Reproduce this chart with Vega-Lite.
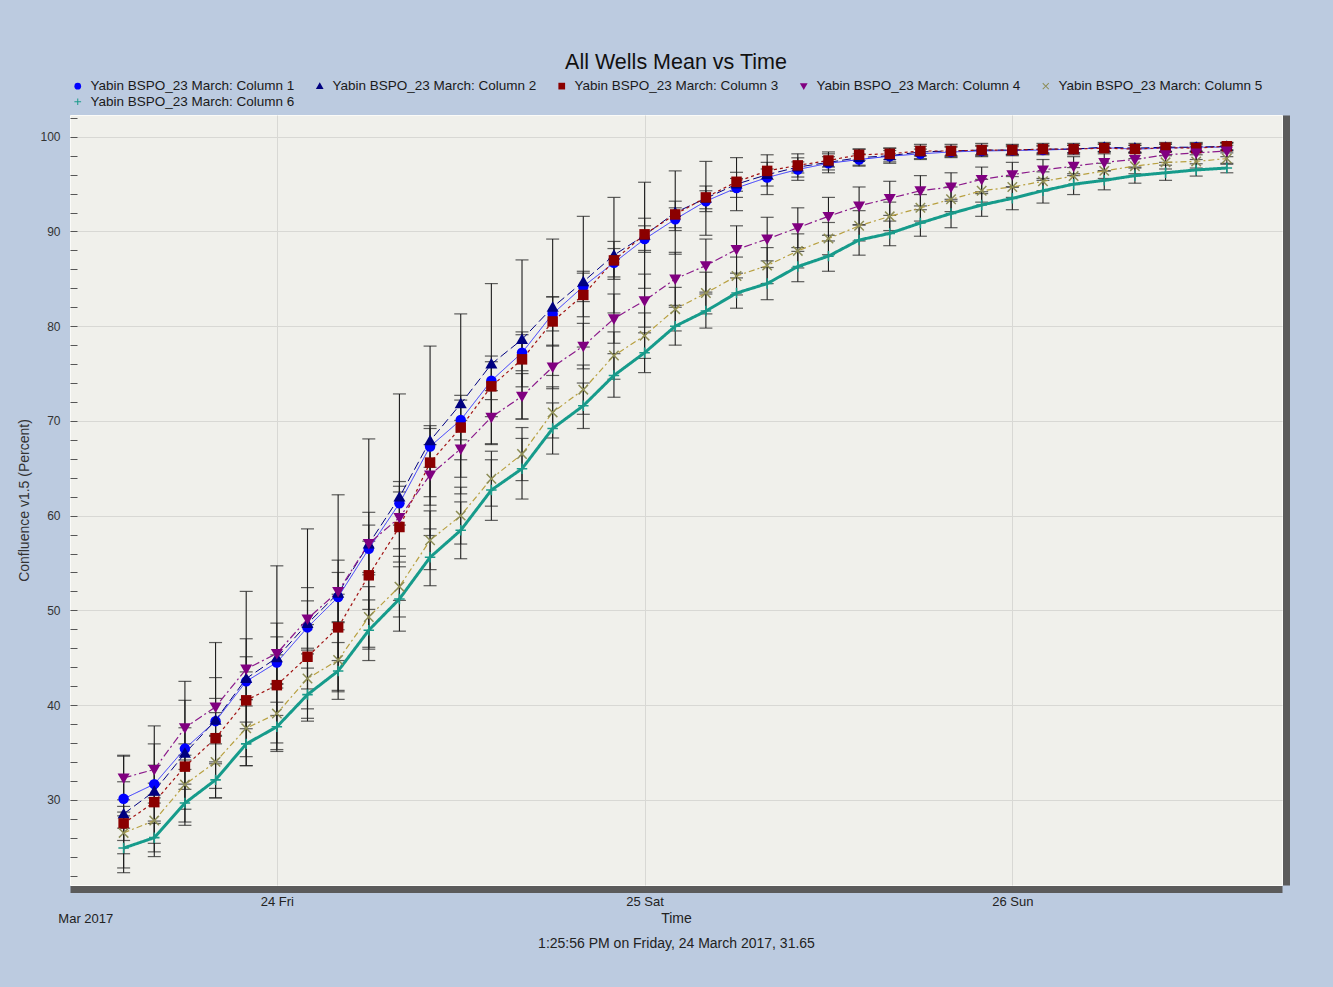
{
"$schema": "https://vega.github.io/schema/vega-lite/v6.json",
"width": 1212, "height": 770,
"autosize": "none",
"padding": {"left": 70, "top": 115, "right": 51, "bottom": 102},
"background": "#bccbe0",
"config": {"font": "Liberation Sans", "view": {"fill": "#f0f0eb", "stroke": "#fbfbf8", "strokeWidth": 1}},
"title": {"text": "All Wells Mean vs Time", "fontSize": 21.5, "fontWeight": "normal", "color": "#111111", "anchor": "middle", "frame": "group", "offset": 6},
"data": {"values": [
{"time":"2017-03-23T14:00:00","series":"Column 1","mean":30.1,"sd":1.8},
{"time":"2017-03-23T16:00:00","series":"Column 1","mean":31.65,"sd":2.0},
{"time":"2017-03-23T18:00:00","series":"Column 1","mean":35.4,"sd":2.2},
{"time":"2017-03-23T20:00:00","series":"Column 1","mean":38.3,"sd":2.4},
{"time":"2017-03-23T22:00:00","series":"Column 1","mean":42.5,"sd":2.6},
{"time":"2017-03-24T00:00:00","series":"Column 1","mean":44.5,"sd":2.7},
{"time":"2017-03-24T02:00:00","series":"Column 1","mean":48.2,"sd":2.8},
{"time":"2017-03-24T04:00:00","series":"Column 1","mean":51.4,"sd":2.6},
{"time":"2017-03-24T06:00:00","series":"Column 1","mean":56.5,"sd":2.5},
{"time":"2017-03-24T08:00:00","series":"Column 1","mean":61.3,"sd":2.3},
{"time":"2017-03-24T10:00:00","series":"Column 1","mean":67.3,"sd":2.2},
{"time":"2017-03-24T12:00:00","series":"Column 1","mean":70.1,"sd":2.1},
{"time":"2017-03-24T14:00:00","series":"Column 1","mean":74.25,"sd":2.0},
{"time":"2017-03-24T16:00:00","series":"Column 1","mean":77.2,"sd":1.9},
{"time":"2017-03-24T18:00:00","series":"Column 1","mean":81.3,"sd":1.8},
{"time":"2017-03-24T20:00:00","series":"Column 1","mean":84.2,"sd":1.6},
{"time":"2017-03-24T22:00:00","series":"Column 1","mean":86.7,"sd":1.5},
{"time":"2017-03-25T00:00:00","series":"Column 1","mean":89.2,"sd":1.4},
{"time":"2017-03-25T02:00:00","series":"Column 1","mean":91.3,"sd":1.2},
{"time":"2017-03-25T04:00:00","series":"Column 1","mean":93.2,"sd":1.1},
{"time":"2017-03-25T06:00:00","series":"Column 1","mean":94.6,"sd":1.0},
{"time":"2017-03-25T08:00:00","series":"Column 1","mean":95.7,"sd":0.9},
{"time":"2017-03-25T10:00:00","series":"Column 1","mean":96.55,"sd":0.8},
{"time":"2017-03-25T12:00:00","series":"Column 1","mean":97.2,"sd":0.7},
{"time":"2017-03-25T14:00:00","series":"Column 1","mean":97.6,"sd":0.6},
{"time":"2017-03-25T16:00:00","series":"Column 1","mean":97.95,"sd":0.6},
{"time":"2017-03-25T18:00:00","series":"Column 1","mean":98.2,"sd":0.5},
{"time":"2017-03-25T20:00:00","series":"Column 1","mean":98.4,"sd":0.5},
{"time":"2017-03-25T22:00:00","series":"Column 1","mean":98.5,"sd":0.5},
{"time":"2017-03-26T00:00:00","series":"Column 1","mean":98.55,"sd":0.4},
{"time":"2017-03-26T02:00:00","series":"Column 1","mean":98.6,"sd":0.4},
{"time":"2017-03-26T04:00:00","series":"Column 1","mean":98.7,"sd":0.4},
{"time":"2017-03-26T06:00:00","series":"Column 1","mean":98.85,"sd":0.4},
{"time":"2017-03-26T08:00:00","series":"Column 1","mean":98.7,"sd":0.4},
{"time":"2017-03-26T10:00:00","series":"Column 1","mean":98.8,"sd":0.4},
{"time":"2017-03-26T12:00:00","series":"Column 1","mean":98.9,"sd":0.4},
{"time":"2017-03-26T14:00:00","series":"Column 1","mean":98.9,"sd":0.4},
{"time":"2017-03-23T14:00:00","series":"Column 2","mean":28.5,"sd":6.2},
{"time":"2017-03-23T16:00:00","series":"Column 2","mean":30.9,"sd":6.9},
{"time":"2017-03-23T18:00:00","series":"Column 2","mean":34.9,"sd":7.6},
{"time":"2017-03-23T20:00:00","series":"Column 2","mean":38.4,"sd":8.2},
{"time":"2017-03-23T22:00:00","series":"Column 2","mean":42.8,"sd":9.2},
{"time":"2017-03-24T00:00:00","series":"Column 2","mean":45.0,"sd":9.7},
{"time":"2017-03-24T02:00:00","series":"Column 2","mean":48.6,"sd":10.0},
{"time":"2017-03-24T04:00:00","series":"Column 2","mean":51.8,"sd":10.4},
{"time":"2017-03-24T06:00:00","series":"Column 2","mean":57.0,"sd":11.1},
{"time":"2017-03-24T08:00:00","series":"Column 2","mean":61.95,"sd":10.9},
{"time":"2017-03-24T10:00:00","series":"Column 2","mean":67.9,"sd":10.0},
{"time":"2017-03-24T12:00:00","series":"Column 2","mean":71.8,"sd":9.5},
{"time":"2017-03-24T14:00:00","series":"Column 2","mean":76.0,"sd":8.5},
{"time":"2017-03-24T16:00:00","series":"Column 2","mean":78.6,"sd":8.4},
{"time":"2017-03-24T18:00:00","series":"Column 2","mean":82.0,"sd":7.2},
{"time":"2017-03-24T20:00:00","series":"Column 2","mean":84.7,"sd":6.9},
{"time":"2017-03-24T22:00:00","series":"Column 2","mean":87.5,"sd":6.1},
{"time":"2017-03-25T00:00:00","series":"Column 2","mean":89.6,"sd":5.6},
{"time":"2017-03-25T02:00:00","series":"Column 2","mean":92.0,"sd":4.4},
{"time":"2017-03-25T04:00:00","series":"Column 2","mean":93.5,"sd":3.9},
{"time":"2017-03-25T06:00:00","series":"Column 2","mean":95.0,"sd":2.8},
{"time":"2017-03-25T08:00:00","series":"Column 2","mean":96.0,"sd":2.1},
{"time":"2017-03-25T10:00:00","series":"Column 2","mean":96.8,"sd":1.4},
{"time":"2017-03-25T12:00:00","series":"Column 2","mean":97.3,"sd":1.1},
{"time":"2017-03-25T14:00:00","series":"Column 2","mean":97.8,"sd":0.9},
{"time":"2017-03-25T16:00:00","series":"Column 2","mean":98.0,"sd":0.8},
{"time":"2017-03-25T18:00:00","series":"Column 2","mean":98.4,"sd":0.8},
{"time":"2017-03-25T20:00:00","series":"Column 2","mean":98.5,"sd":0.7},
{"time":"2017-03-25T22:00:00","series":"Column 2","mean":98.6,"sd":0.7},
{"time":"2017-03-26T00:00:00","series":"Column 2","mean":98.6,"sd":0.6},
{"time":"2017-03-26T02:00:00","series":"Column 2","mean":98.7,"sd":0.6},
{"time":"2017-03-26T04:00:00","series":"Column 2","mean":98.7,"sd":0.6},
{"time":"2017-03-26T06:00:00","series":"Column 2","mean":98.9,"sd":0.5},
{"time":"2017-03-26T08:00:00","series":"Column 2","mean":98.8,"sd":0.5},
{"time":"2017-03-26T10:00:00","series":"Column 2","mean":98.9,"sd":0.5},
{"time":"2017-03-26T12:00:00","series":"Column 2","mean":98.9,"sd":0.5},
{"time":"2017-03-26T14:00:00","series":"Column 2","mean":99.0,"sd":0.4},
{"time":"2017-03-23T14:00:00","series":"Column 3","mean":27.5,"sd":1.8},
{"time":"2017-03-23T16:00:00","series":"Column 3","mean":29.75,"sd":2.0},
{"time":"2017-03-23T18:00:00","series":"Column 3","mean":33.5,"sd":2.4},
{"time":"2017-03-23T20:00:00","series":"Column 3","mean":36.5,"sd":2.7},
{"time":"2017-03-23T22:00:00","series":"Column 3","mean":40.5,"sd":3.0},
{"time":"2017-03-24T00:00:00","series":"Column 3","mean":42.1,"sd":3.2},
{"time":"2017-03-24T02:00:00","series":"Column 3","mean":45.1,"sd":3.4},
{"time":"2017-03-24T04:00:00","series":"Column 3","mean":48.2,"sd":3.5},
{"time":"2017-03-24T06:00:00","series":"Column 3","mean":53.7,"sd":3.6},
{"time":"2017-03-24T08:00:00","series":"Column 3","mean":58.8,"sd":3.7},
{"time":"2017-03-24T10:00:00","series":"Column 3","mean":65.6,"sd":3.6},
{"time":"2017-03-24T12:00:00","series":"Column 3","mean":69.3,"sd":3.4},
{"time":"2017-03-24T14:00:00","series":"Column 3","mean":73.65,"sd":3.2},
{"time":"2017-03-24T16:00:00","series":"Column 3","mean":76.5,"sd":2.9},
{"time":"2017-03-24T18:00:00","series":"Column 3","mean":80.5,"sd":2.6},
{"time":"2017-03-24T20:00:00","series":"Column 3","mean":83.3,"sd":2.3},
{"time":"2017-03-24T22:00:00","series":"Column 3","mean":86.95,"sd":2.0},
{"time":"2017-03-25T00:00:00","series":"Column 3","mean":89.7,"sd":1.7},
{"time":"2017-03-25T02:00:00","series":"Column 3","mean":91.8,"sd":1.4},
{"time":"2017-03-25T04:00:00","series":"Column 3","mean":93.6,"sd":1.2},
{"time":"2017-03-25T06:00:00","series":"Column 3","mean":95.25,"sd":1.0},
{"time":"2017-03-25T08:00:00","series":"Column 3","mean":96.4,"sd":0.9},
{"time":"2017-03-25T10:00:00","series":"Column 3","mean":96.98,"sd":0.8},
{"time":"2017-03-25T12:00:00","series":"Column 3","mean":97.5,"sd":0.7},
{"time":"2017-03-25T14:00:00","series":"Column 3","mean":98.1,"sd":0.6},
{"time":"2017-03-25T16:00:00","series":"Column 3","mean":98.2,"sd":0.6},
{"time":"2017-03-25T18:00:00","series":"Column 3","mean":98.5,"sd":0.5},
{"time":"2017-03-25T20:00:00","series":"Column 3","mean":98.5,"sd":0.5},
{"time":"2017-03-25T22:00:00","series":"Column 3","mean":98.6,"sd":0.5},
{"time":"2017-03-26T00:00:00","series":"Column 3","mean":98.6,"sd":0.5},
{"time":"2017-03-26T02:00:00","series":"Column 3","mean":98.7,"sd":0.4},
{"time":"2017-03-26T04:00:00","series":"Column 3","mean":98.7,"sd":0.4},
{"time":"2017-03-26T06:00:00","series":"Column 3","mean":98.8,"sd":0.4},
{"time":"2017-03-26T08:00:00","series":"Column 3","mean":98.7,"sd":0.4},
{"time":"2017-03-26T10:00:00","series":"Column 3","mean":98.85,"sd":0.4},
{"time":"2017-03-26T12:00:00","series":"Column 3","mean":98.8,"sd":0.4},
{"time":"2017-03-26T14:00:00","series":"Column 3","mean":99.0,"sd":0.4},
{"time":"2017-03-23T14:00:00","series":"Column 4","mean":32.3,"sd":2.3},
{"time":"2017-03-23T16:00:00","series":"Column 4","mean":33.2,"sd":2.7},
{"time":"2017-03-23T18:00:00","series":"Column 4","mean":37.6,"sd":2.9},
{"time":"2017-03-23T20:00:00","series":"Column 4","mean":39.8,"sd":3.1},
{"time":"2017-03-23T22:00:00","series":"Column 4","mean":43.8,"sd":3.2},
{"time":"2017-03-24T00:00:00","series":"Column 4","mean":45.45,"sd":3.2},
{"time":"2017-03-24T02:00:00","series":"Column 4","mean":49.1,"sd":3.3},
{"time":"2017-03-24T04:00:00","series":"Column 4","mean":52.0,"sd":3.3},
{"time":"2017-03-24T06:00:00","series":"Column 4","mean":57.05,"sd":3.3},
{"time":"2017-03-24T08:00:00","series":"Column 4","mean":59.8,"sd":3.3},
{"time":"2017-03-24T10:00:00","series":"Column 4","mean":64.3,"sd":3.2},
{"time":"2017-03-24T12:00:00","series":"Column 4","mean":67.05,"sd":3.0},
{"time":"2017-03-24T14:00:00","series":"Column 4","mean":70.4,"sd":2.8},
{"time":"2017-03-24T16:00:00","series":"Column 4","mean":72.6,"sd":2.4},
{"time":"2017-03-24T18:00:00","series":"Column 4","mean":75.7,"sd":2.3},
{"time":"2017-03-24T20:00:00","series":"Column 4","mean":77.9,"sd":2.4},
{"time":"2017-03-24T22:00:00","series":"Column 4","mean":80.8,"sd":2.6},
{"time":"2017-03-25T00:00:00","series":"Column 4","mean":82.7,"sd":2.8},
{"time":"2017-03-25T02:00:00","series":"Column 4","mean":85.0,"sd":2.8},
{"time":"2017-03-25T04:00:00","series":"Column 4","mean":86.4,"sd":2.8},
{"time":"2017-03-25T06:00:00","series":"Column 4","mean":88.1,"sd":2.5},
{"time":"2017-03-25T08:00:00","series":"Column 4","mean":89.2,"sd":2.3},
{"time":"2017-03-25T10:00:00","series":"Column 4","mean":90.4,"sd":2.1},
{"time":"2017-03-25T12:00:00","series":"Column 4","mean":91.6,"sd":2.0},
{"time":"2017-03-25T14:00:00","series":"Column 4","mean":92.7,"sd":2.0},
{"time":"2017-03-25T16:00:00","series":"Column 4","mean":93.5,"sd":1.8},
{"time":"2017-03-25T18:00:00","series":"Column 4","mean":94.3,"sd":1.6},
{"time":"2017-03-25T20:00:00","series":"Column 4","mean":94.7,"sd":1.5},
{"time":"2017-03-25T22:00:00","series":"Column 4","mean":95.5,"sd":1.3},
{"time":"2017-03-26T00:00:00","series":"Column 4","mean":96.0,"sd":1.3},
{"time":"2017-03-26T02:00:00","series":"Column 4","mean":96.5,"sd":1.1},
{"time":"2017-03-26T04:00:00","series":"Column 4","mean":96.9,"sd":1.0},
{"time":"2017-03-26T06:00:00","series":"Column 4","mean":97.3,"sd":0.9},
{"time":"2017-03-26T08:00:00","series":"Column 4","mean":97.6,"sd":0.8},
{"time":"2017-03-26T10:00:00","series":"Column 4","mean":98.1,"sd":0.8},
{"time":"2017-03-26T12:00:00","series":"Column 4","mean":98.3,"sd":0.7},
{"time":"2017-03-26T14:00:00","series":"Column 4","mean":98.5,"sd":0.6},
{"time":"2017-03-23T14:00:00","series":"Column 5","mean":26.5,"sd":2.2},
{"time":"2017-03-23T16:00:00","series":"Column 5","mean":27.8,"sd":2.4},
{"time":"2017-03-23T18:00:00","series":"Column 5","mean":31.6,"sd":2.6},
{"time":"2017-03-23T20:00:00","series":"Column 5","mean":34.0,"sd":2.8},
{"time":"2017-03-23T22:00:00","series":"Column 5","mean":37.55,"sd":3.0},
{"time":"2017-03-24T00:00:00","series":"Column 5","mean":39.1,"sd":3.1},
{"time":"2017-03-24T02:00:00","series":"Column 5","mean":42.8,"sd":3.2},
{"time":"2017-03-24T04:00:00","series":"Column 5","mean":44.75,"sd":3.2},
{"time":"2017-03-24T06:00:00","series":"Column 5","mean":49.3,"sd":3.2},
{"time":"2017-03-24T08:00:00","series":"Column 5","mean":52.5,"sd":3.2},
{"time":"2017-03-24T10:00:00","series":"Column 5","mean":57.4,"sd":3.1},
{"time":"2017-03-24T12:00:00","series":"Column 5","mean":60.0,"sd":3.0},
{"time":"2017-03-24T14:00:00","series":"Column 5","mean":63.9,"sd":2.9},
{"time":"2017-03-24T16:00:00","series":"Column 5","mean":66.5,"sd":2.8},
{"time":"2017-03-24T18:00:00","series":"Column 5","mean":70.9,"sd":2.7},
{"time":"2017-03-24T20:00:00","series":"Column 5","mean":73.3,"sd":2.6},
{"time":"2017-03-24T22:00:00","series":"Column 5","mean":76.9,"sd":2.5},
{"time":"2017-03-25T00:00:00","series":"Column 5","mean":79.0,"sd":2.4},
{"time":"2017-03-25T02:00:00","series":"Column 5","mean":81.8,"sd":2.3},
{"time":"2017-03-25T04:00:00","series":"Column 5","mean":83.5,"sd":2.2},
{"time":"2017-03-25T06:00:00","series":"Column 5","mean":85.3,"sd":2.0},
{"time":"2017-03-25T08:00:00","series":"Column 5","mean":86.4,"sd":1.9},
{"time":"2017-03-25T10:00:00","series":"Column 5","mean":87.95,"sd":1.8},
{"time":"2017-03-25T12:00:00","series":"Column 5","mean":89.25,"sd":1.7},
{"time":"2017-03-25T14:00:00","series":"Column 5","mean":90.6,"sd":1.6},
{"time":"2017-03-25T16:00:00","series":"Column 5","mean":91.6,"sd":1.5},
{"time":"2017-03-25T18:00:00","series":"Column 5","mean":92.5,"sd":1.4},
{"time":"2017-03-25T20:00:00","series":"Column 5","mean":93.4,"sd":1.3},
{"time":"2017-03-25T22:00:00","series":"Column 5","mean":94.3,"sd":1.2},
{"time":"2017-03-26T00:00:00","series":"Column 5","mean":94.7,"sd":1.1},
{"time":"2017-03-26T02:00:00","series":"Column 5","mean":95.3,"sd":1.0},
{"time":"2017-03-26T04:00:00","series":"Column 5","mean":95.85,"sd":0.9},
{"time":"2017-03-26T06:00:00","series":"Column 5","mean":96.4,"sd":0.8},
{"time":"2017-03-26T08:00:00","series":"Column 5","mean":96.9,"sd":0.8},
{"time":"2017-03-26T10:00:00","series":"Column 5","mean":97.3,"sd":0.7},
{"time":"2017-03-26T12:00:00","series":"Column 5","mean":97.4,"sd":0.7},
{"time":"2017-03-26T14:00:00","series":"Column 5","mean":97.7,"sd":0.6},
{"time":"2017-03-23T14:00:00","series":"Column 6","mean":24.9,"sd":2.1},
{"time":"2017-03-23T16:00:00","series":"Column 6","mean":26.0,"sd":1.5},
{"time":"2017-03-23T18:00:00","series":"Column 6","mean":29.65,"sd":2.0},
{"time":"2017-03-23T20:00:00","series":"Column 6","mean":32.1,"sd":1.9},
{"time":"2017-03-23T22:00:00","series":"Column 6","mean":35.9,"sd":2.3},
{"time":"2017-03-24T00:00:00","series":"Column 6","mean":37.7,"sd":2.6},
{"time":"2017-03-24T02:00:00","series":"Column 6","mean":41.1,"sd":2.8},
{"time":"2017-03-24T04:00:00","series":"Column 6","mean":43.6,"sd":3.0},
{"time":"2017-03-24T06:00:00","series":"Column 6","mean":47.9,"sd":3.2},
{"time":"2017-03-24T08:00:00","series":"Column 6","mean":51.2,"sd":3.4},
{"time":"2017-03-24T10:00:00","series":"Column 6","mean":55.6,"sd":3.0},
{"time":"2017-03-24T12:00:00","series":"Column 6","mean":58.45,"sd":3.0},
{"time":"2017-03-24T14:00:00","series":"Column 6","mean":62.7,"sd":3.2},
{"time":"2017-03-24T16:00:00","series":"Column 6","mean":64.95,"sd":3.2},
{"time":"2017-03-24T18:00:00","series":"Column 6","mean":69.2,"sd":2.7},
{"time":"2017-03-24T20:00:00","series":"Column 6","mean":71.6,"sd":2.4},
{"time":"2017-03-24T22:00:00","series":"Column 6","mean":74.8,"sd":2.3},
{"time":"2017-03-25T00:00:00","series":"Column 6","mean":77.2,"sd":2.1},
{"time":"2017-03-25T02:00:00","series":"Column 6","mean":80.0,"sd":2.0},
{"time":"2017-03-25T04:00:00","series":"Column 6","mean":81.6,"sd":1.8},
{"time":"2017-03-25T06:00:00","series":"Column 6","mean":83.5,"sd":1.6},
{"time":"2017-03-25T08:00:00","series":"Column 6","mean":84.5,"sd":1.7},
{"time":"2017-03-25T10:00:00","series":"Column 6","mean":86.3,"sd":1.6},
{"time":"2017-03-25T12:00:00","series":"Column 6","mean":87.4,"sd":1.6},
{"time":"2017-03-25T14:00:00","series":"Column 6","mean":89.1,"sd":1.6},
{"time":"2017-03-25T16:00:00","series":"Column 6","mean":89.8,"sd":1.3},
{"time":"2017-03-25T18:00:00","series":"Column 6","mean":90.9,"sd":1.4},
{"time":"2017-03-25T20:00:00","series":"Column 6","mean":91.9,"sd":1.5},
{"time":"2017-03-25T22:00:00","series":"Column 6","mean":92.8,"sd":1.2},
{"time":"2017-03-26T00:00:00","series":"Column 6","mean":93.5,"sd":1.2},
{"time":"2017-03-26T02:00:00","series":"Column 6","mean":94.3,"sd":1.3},
{"time":"2017-03-26T04:00:00","series":"Column 6","mean":95.0,"sd":1.1},
{"time":"2017-03-26T06:00:00","series":"Column 6","mean":95.4,"sd":1.0},
{"time":"2017-03-26T08:00:00","series":"Column 6","mean":95.9,"sd":0.8},
{"time":"2017-03-26T10:00:00","series":"Column 6","mean":96.2,"sd":0.8},
{"time":"2017-03-26T12:00:00","series":"Column 6","mean":96.5,"sd":0.65},
{"time":"2017-03-26T14:00:00","series":"Column 6","mean":96.7,"sd":0.5}
]},
"resolve": {"axis": {"x": "independent", "y": "independent"}},
"layer": [
{
"mark": {"type": "errorbar", "color": "#1e1e1e", "thickness": 1.1, "ticks": {"size": 13, "thickness": 1.2, "color": "#1e1e1e"}},
"encoding": {
"x": {"field": "time", "type": "temporal", "axis": null, "scale": {"domain": [{"year": 2017, "month": 3, "date": 23, "hours": 10, "minutes": 30}, {"year": 2017, "month": 3, "date": 26, "hours": 17, "minutes": 36}]}},
"y": {"field": "mean", "type": "quantitative", "axis": null, "scale": {"domain": [21, 102.3], "nice": false, "zero": false}},
"yError": {"field": "sd"},
"detail": {"field": "series", "type": "nominal"}
}
},
{
"mark": {"type": "line", "clip": true},
"encoding": {
"x": {"field": "time", "type": "temporal", "scale": {"domain": [{"year": 2017, "month": 3, "date": 23, "hours": 10, "minutes": 30}, {"year": 2017, "month": 3, "date": 26, "hours": 17, "minutes": 36}]},
  "axis": {"values": [{"year": 2017, "month": 3, "date": 24}, {"year": 2017, "month": 3, "date": 25}, {"year": 2017, "month": 3, "date": 26}], "format": "%d %a", "grid": true, "gridColor": "#d8d8d4", "domain": true, "domainColor": "#5b5b5b", "domainWidth": 7, "offset": 4, "ticks": false, "labelPadding": 6, "labelFontSize": 13, "labelColor": "#222222", "title": ["Time", "1:25:56 PM on Friday, 24 March 2017, 31.65"], "titleFontSize": 14, "titleFontWeight": "normal", "titleColor": "#222222", "titleLineHeight": 25, "titlePadding": 3}},
"y": {"field": "mean", "type": "quantitative", "scale": {"domain": [21, 102.3], "nice": false, "zero": false},
  "axis": {"values": [22,24,26,28,30,32,34,36,38,40,42,44,46,48,50,52,54,56,58,60,62,64,66,68,70,72,74,76,78,80,82,84,86,88,90,92,94,96,98,100,102], "labelExpr": "datum.value % 10 === 0 ? datum.label : ''", "grid": true, "gridColor": "#d8d8d4", "gridOpacity": {"condition": {"test": "datum.value % 10 === 0", "value": 1}, "value": 0}, "domain": false, "tickSize": -7, "tickColor": "#555555", "labelPadding": 17, "labelFontSize": 12, "labelColor": "#333333", "title": "Confluence v1.5 (Percent)", "titleFontSize": 14, "titleFontWeight": "normal", "titleColor": "#333333", "titlePadding": 8}},
"stroke": {"field": "series", "type": "nominal", "legend": null, "scale": {"range": ["#3030ff","#000080","#a01010","#8b1a8b","#b8a040","#169b8b"]}},
"strokeDash": {"field": "series", "type": "nominal", "legend": null, "scale": {"range": [[1,0],[9,4],[3,3],[8,3,2,3],[6,3,2,3],[1,0]]}},
"strokeWidth": {"field": "series", "type": "ordinal", "legend": null, "scale": {"type": "ordinal", "range": [1,1,1.2,1.2,1.2,3]}}
}
},
{
"mark": {"type": "point", "filled": true, "opacity": 1, "size": 110},
"encoding": {
"x": {"field": "time", "type": "temporal", "scale": {"domain": [{"year": 2017, "month": 3, "date": 23, "hours": 10, "minutes": 30}, {"year": 2017, "month": 3, "date": 26, "hours": 17, "minutes": 36}]},
  "axis": {"orient": "bottom", "values": [{"year": 2017, "month": 3, "date": 23, "hours": 11, "minutes": 30}], "labelExpr": "'Mar 2017'", "domain": false, "ticks": false, "grid": false, "offset": 4, "labelPadding": 23, "labelFontSize": 13, "labelColor": "#222222", "title": null}},
"y": {"field": "mean", "type": "quantitative", "scale": {"domain": [21, 102.3], "nice": false, "zero": false},
  "axis": {"orient": "right", "domain": true, "domainColor": "#5b5b5b", "domainWidth": 7, "offset": 4, "ticks": false, "labels": false, "grid": false, "title": null}},
"color": {"field": "series", "type": "nominal", "scale": {"domain": ["Column 1","Column 2","Column 3","Column 4","Column 5","Column 6"], "range": ["#0000ff","#000080","#8b0000","#800080","#8c8c55","#1a9a8a"]},
  "legend": {"title": null, "orient": "none", "legendX": 1, "legendY": -36, "direction": "horizontal", "columns": 5, "labelExpr": "'Yabin BSPO_23 March: ' + datum.label", "labelFontSize": 13.5, "labelColor": "#1a1a1a", "labelLimit": 400, "symbolSize": 45, "labelOffset": 6, "columnPadding": 18, "rowPadding": 1, "padding": 0}},
"shape": {"field": "series", "type": "nominal", "scale": {"domain": ["Column 1","Column 2","Column 3","Column 4","Column 5","Column 6"], "range": ["circle","M0,-1.15L1.15,0.85L-1.15,0.85Z","square","M0,1.15L1.15,-0.85L-1.15,-0.85Z","M-1,-0.8L-0.8,-1L0,-0.2L0.8,-1L1,-0.8L0.2,0L1,0.8L0.8,1L0,0.2L-0.8,1L-1,0.8L-0.2,0Z","M-0.15,-1L0.15,-1L0.15,-0.15L1,-0.15L1,0.15L0.15,0.15L0.15,1L-0.15,1L-0.15,0.15L-1,0.15L-1,-0.15L-0.15,-0.15Z"]}}
}
}
]
}
